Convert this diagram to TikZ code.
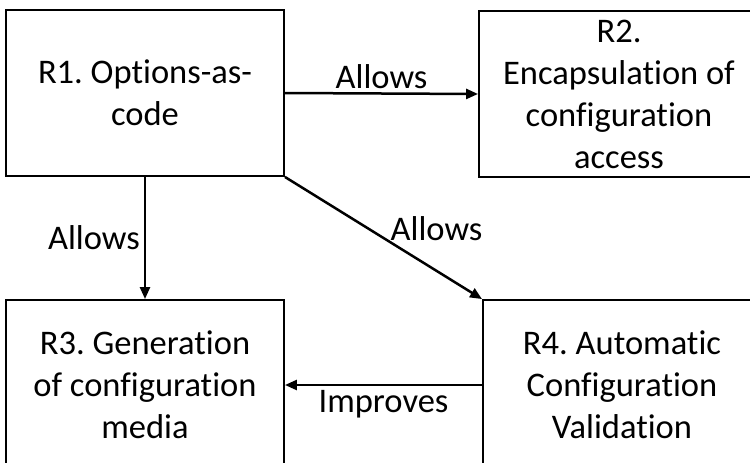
\documentclass[tikz,border=0pt]{standalone}
\usepackage{fontspec}
\setmainfont{Carlito}[Ligatures=NoCommon]
\frenchspacing
\usetikzlibrary{arrows.meta}

\begin{document}
\begin{tikzpicture}[x=1pt,y=-1pt,
    req/.style={draw,line width=1.9pt,rectangle,align=center,inner sep=0pt,
      font=\fontsize{34.5}{42}\selectfont},
    rel/.style={-{Triangle[length=12pt,width=10pt]},line width=2.5pt},
    lbl/.style={font=\fontsize{34.5}{42}\selectfont,inner sep=4pt}]
  \useasboundingbox (0,0) rectangle (750,463);
  \clip (0,0) rectangle (750,463);

  \node[req,minimum width=278pt,minimum height=166pt] (r1) at (145,93) {R1. Options-as-\\code};
  \node[req,minimum width=280pt,minimum height=166pt] (r2) at (619,94) {R2.\\Encapsulation of\\configuration\\access};
  \node[req,minimum width=278pt,minimum height=170pt] (r3) at (145,385) {R3. Generation\\of configuration\\media};
  \node[req,minimum width=278pt,minimum height=170pt] (r4) at (622,385) {R4. Automatic\\Configuration\\Validation};

  \draw[rel] (r1.east) -- node[lbl,above,inner sep=3pt] {Allows} (r2.west);
  \draw[rel] (r1.south) -- node[lbl,left] {Allows} (r3.north);
  \draw[rel] (r1.south east) -- node[lbl,pos=0.53,anchor=south west,inner sep=0pt] {Allows} (r4.north west);
  \draw[rel] (r4.west) -- node[lbl,below] {Improves} (r3.east);
\end{tikzpicture}
\end{document}
